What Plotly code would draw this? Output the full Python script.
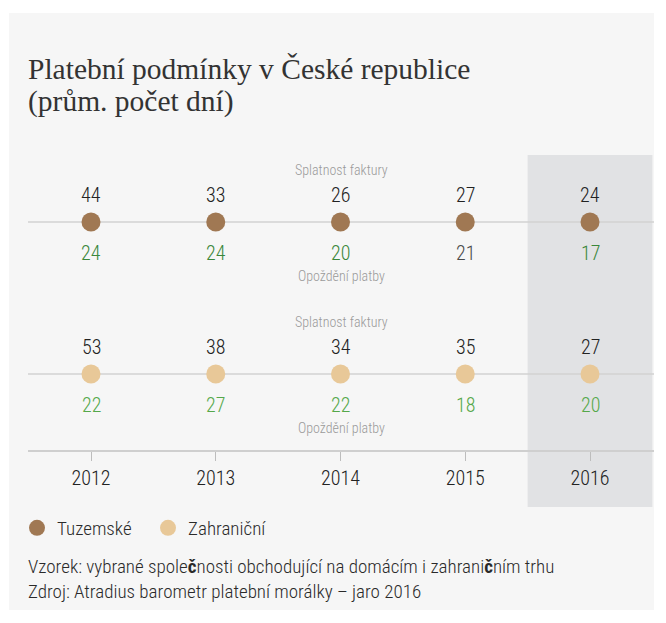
import plotly.graph_objects as go

# ---- data ----
years = [2012, 2013, 2014, 2015, 2016]
series_names = ["Tuzemské", "Zahraniční"]
dom_invoice = [44, 33, 26, 27, 24]       # Splatnost faktury - Tuzemské
dom_delay = [24, 24, 20, 21, 17]         # Opoždění platby - Tuzemské
for_invoice = [53, 38, 34, 35, 27]       # Splatnost faktury - Zahraniční
for_delay = [22, 27, 22, 18, 20]         # Opoždění platby - Zahraniční
top_label = "Splatnost faktury"
bottom_label = "Opoždění platby"
title_lines = ["Platební podmínky v České republice", "(prům. počet dní)"]
note_lines = ["Vzorek: vybrané spole<b>č</b>nosti obchodující na domácím i zahrani<b>č</b>ním trhu",
              "Zdroj: Atradius barometr platební morálky – jaro 2016"]

# ---- style ----
OFF = 8                                  # page body margin
W, H = 650, 607
L, R, T, B = 28 - OFF, 654 - OFF, 155 - OFF, 450 - OFF   # plot area in figure pixels
SANS = "Roboto Condensed, DejaVu Sans Condensed, Liberation Sans Narrow, sans-serif"
SERIF = "Liberation Serif, DejaVu Serif, serif"
dot_colors = ["#a07853", "#e8c898"]
dom_delay_colors = ["#3a873a", "#3a873a", "#3a873a", "#4a4a4a", "#3a873a"]
for_delay_colors = ["#55a84a"] * 5
row_y = [222 - OFF, 374 - OFF]


def px(xp):
    return (xp - OFF - L) / (R - L)


def py(yp):
    return (B - (yp - OFF)) / (B - T)


fig = go.Figure()

rows = [(dom_invoice, dom_delay, dom_delay_colors), (for_invoice, for_delay, for_delay_colors)]
annotations = []
shapes = []

# background panel
shapes.append(dict(type="rect", xref="paper", yref="paper", x0=px(9), x1=px(654), y0=py(610), y1=py(13),
                   fillcolor="#f6f6f6", line_width=0, layer="below"))
# highlighted 2016 column
shapes.append(dict(type="rect", xref="x", yref="paper", x0=years[-1] - 0.5, x1=years[-1] + 0.5,
                   y0=py(507), y1=py(155), fillcolor="#e1e2e4", line_width=0, layer="below"))

for i, (inv, dly, dcol) in enumerate(rows):
    yy = row_y[i]
    shapes.append(dict(type="line", xref="paper", yref="y", x0=0, x1=1, y0=yy, y1=yy,
                       line=dict(color="#d2d2d2", width=1.5), layer="below"))
    fig.add_trace(go.Scatter(
        x=years, y=[yy] * len(years), mode="markers", name=series_names[i],
        marker=dict(size=19, color=dot_colors[i]),
        hoverinfo="skip", showlegend=True))
    for x, v in zip(years, inv):
        annotations.append(dict(x=x, y=yy - 27, xref="x", yref="y", text=str(v), showarrow=False,
                                font=dict(family=SANS, size=20, color="#222222", weight=300)))
    for x, v, c in zip(years, dly, dcol):
        annotations.append(dict(x=x, y=yy + 31, xref="x", yref="y", text=str(v), showarrow=False,
                                font=dict(family=SANS, size=20, color=c, weight=300)))
    annotations.append(dict(x=0.5, y=yy - 52, xref="paper", yref="y", text=top_label, showarrow=False,
                            font=dict(family=SANS, size=14, color="#9a9a9a", weight=300)))
    annotations.append(dict(x=0.5, y=yy + 54, xref="paper", yref="y", text=bottom_label, showarrow=False,
                            font=dict(family=SANS, size=14, color="#9a9a9a", weight=300)))

# title
for k, line in enumerate(title_lines):
    annotations.append(dict(x=px(26), y=py(69 + 32 * k), xref="paper", yref="paper", xanchor="left",
                            yanchor="middle", align="left", text=line, showarrow=False,
                            font=dict(family=SERIF, size=29.5, color="#333333")))
# notes
for k, line in enumerate(note_lines):
    annotations.append(dict(x=px(26), y=py(566 + 25 * k), xref="paper", yref="paper", xanchor="left",
                            yanchor="middle", align="left", text=line, showarrow=False,
                            font=dict(family=SANS, size=19, color="#2a2a2a", weight=300)))

fig.update_layout(
    width=W, height=H,
    margin=dict(l=L, r=W - R, t=T, b=H - B, pad=0),
    paper_bgcolor="white", plot_bgcolor="rgba(0,0,0,0)",
    xaxis=dict(range=[years[0] - (91 - OFF - L) / 124.75, years[0] + (R - (91 - OFF)) / 124.75],
               tickmode="array", tickvals=years, ticktext=[str(y) for y in years],
               showgrid=False, zeroline=False, showline=True, linecolor="#cfcfcf", linewidth=2,
               ticks="outside", ticklen=9, tickcolor="#bdbdbd", tickwidth=1,
               tickfont=dict(family=SANS, size=20, color="#222222", weight=300), fixedrange=True),
    yaxis=dict(range=[B, T], visible=False, fixedrange=True),
    showlegend=True,
    legend=dict(orientation="h", x=px(17), y=py(528), xanchor="left", yanchor="middle",
                font=dict(family=SANS, size=19, color="#2a2a2a", weight=300), bgcolor="rgba(0,0,0,0)",
                itemsizing="trace", entrywidth=86, entrywidthmode="pixels"),
    shapes=shapes, annotations=annotations,
)

fig.write_html("out.html")
